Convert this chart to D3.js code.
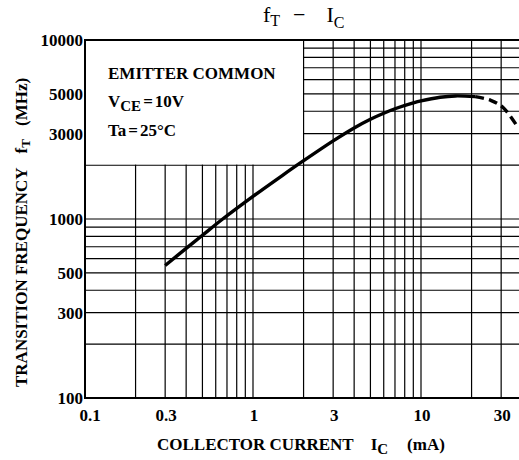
<!DOCTYPE html>
<html>
<meta charset="utf-8">
<head>
  <title>fT - IC</title>
</head>

<style>
body { margin: 0; background: #fff; }
svg { display: block; }
text {
  font-family: "Liberation Serif", "DejaVu Serif", serif;
  font-weight: bold;
  fill: #000;
}
text.title {
  font-weight: normal;
}
.grid line {
  stroke: #000;
  stroke-width: 1.2;
}
.tick {
  font-size: 17px;
}
</style>

<body>
  <svg width="519" height="460"></svg>

  <script src="https://cdnjs.cloudflare.com/ajax/libs/d3/7.8.5/d3.min.js"></script>

  <script>
var width = 519, height = 460
// axis ticks that carry labels
var xTicks = [0.1, 0.3, 1, 3, 10, 30]
var yTicks = [100, 300, 500, 1000, 3000, 5000, 10000]
// curve (Ic in mA, fT in MHz)
var icSolid = [0.3, 0.4, 0.5, 0.66, 1, 1.5, 2, 3, 4, 5, 6, 7, 9, 10, 13, 16, 21]
var ftSolid = [550, 685, 811, 1000, 1338, 1755, 2117, 2733, 3228, 3609, 3900, 4129, 4451, 4570, 4790, 4870, 4830]
var icDashed = [21, 26, 31, 38]
var ftDashed = [4830, 4600, 4170, 3220]

var plotLeft = 85, plotTop = 40, plotBottom = 398
var decadeX = 168

var x = d3.scaleLog().domain([0.1, 50]).range([plotLeft, plotLeft + decadeX * Math.log10(500)])
var y = d3.scaleLog().domain([100, 10000]).range([plotBottom, plotTop])

var svg = d3.select('svg')
var plot = svg.append('g')

//grid lines, all decades
var grid = plot.append('g').attr('class', 'grid')
grid.selectAll('.vx')
  .data(x.ticks())
  .enter()
  .append('line')
  .attr('x1', function(d) { return x(d) })
  .attr('x2', function(d) { return x(d) })
  .attr('y1', plotTop)
  .attr('y2', plotBottom)
grid.selectAll('.hy')
  .data(y.ticks())
  .enter()
  .append('line')
  .attr('x1', plotLeft)
  .attr('x2', x(50))
  .attr('y1', function(d) { return y(d) })
  .attr('y2', function(d) { return y(d) })

//white panel for the conditions (0.1..2 mA, 2000..10000 MHz)
plot.append('rect')
  .attr('x', plotLeft + 1)
  .attr('y', plotTop + 1)
  .attr('width', x(2) - plotLeft - 1.6)
  .attr('height', y(2000) - plotTop - 1.6)
  .attr('fill', '#fff')

//frame
plot.append('path')
  .attr('d', 'M' + x(50) + ',' + plotTop + 'H' + plotLeft + 'V' + plotBottom + 'H' + x(50))
  .attr('fill', 'none')
  .attr('stroke', '#000')
  .attr('stroke-width', 2)

//curve
var line = d3.line()
  .x(function(d) { return x(d[0]) })
  .y(function(d) { return y(d[1]) })
  .curve(d3.curveCatmullRom.alpha(0.5))

plot.append('path')
  .datum(d3.zip(icSolid, ftSolid))
  .attr('d', line)
  .attr('fill', 'none')
  .attr('stroke', '#000')
  .attr('stroke-width', 3.4)

plot.append('path')
  .datum(d3.zip(icDashed, ftDashed))
  .attr('d', line)
  .attr('fill', 'none')
  .attr('stroke', '#000')
  .attr('stroke-width', 3.4)
  .attr('stroke-dasharray', '9,5')

//tick labels
svg.selectAll('.xt')
  .data(xTicks)
  .enter()
  .append('text')
  .attr('class', 'tick')
  .attr('x', function(d) { return x(d) + (d == 0.1 ? 5 : 1) })
  .attr('y', 421)
  .attr('text-anchor', 'middle')
  .text(function(d) { return d })

svg.selectAll('.yt')
  .data(yTicks)
  .enter()
  .append('text')
  .attr('class', 'tick')
  .attr('x', 83)
  .attr('y', function(d) { return y(d) })
  .attr('dy', 6)
  .attr('text-anchor', 'end')
  .text(function(d) { return d })

//conditions text
var cond = svg.append('g').attr('font-size', 17)
cond.append('text').attr('x', 108).attr('y', 79).text('EMITTER COMMON')
var vce = cond.append('text').attr('x', 108).attr('y', 107)
vce.append('tspan').text('V')
vce.append('tspan').attr('dy', 4).attr('font-size', 15).text('CE')
vce.append('tspan').attr('dy', -4).attr('dx', 2).text('=')
vce.append('tspan').attr('dx', 2).text('10V')
var ta = cond.append('text').attr('x', 108).attr('y', 136)
ta.append('tspan').text('Ta')
ta.append('tspan').attr('dx', 2).text('=')
ta.append('tspan').attr('dx', 2).text('25\u00b0C')

//title
var title = svg.append('text')
  .attr('class', 'title')
  .attr('x', 263)
  .attr('y', 22)
  .attr('font-size', 22)
title.append('tspan').text('f')
title.append('tspan').attr('dy', 4).attr('font-size', 16).text('T')
title.append('tspan').attr('dy', -4).attr('dx', 13).text('\u2212')
title.append('tspan').attr('dx', 21).text('I')
title.append('tspan').attr('dy', 6).attr('font-size', 16).text('C')

//axis titles
var xl = svg.append('text')
  .attr('x', 157)
  .attr('y', 450)
  .attr('font-size', 17)
xl.append('tspan').text('COLLECTOR CURRENT')
xl.append('tspan').attr('dx', 17).text('I')
xl.append('tspan').attr('dy', 4).attr('font-size', 15).text('C')
xl.append('tspan').attr('dy', -4).attr('dx', 19).text('(mA)')

var yl = svg.append('text')
  .attr('transform', 'translate(27,387) rotate(-90)')
  .attr('font-size', 17)
yl.append('tspan').text('TRANSITION FREQUENCY')
yl.append('tspan').attr('dx', 14).text('f')
yl.append('tspan').attr('dy', 3).attr('font-size', 13).text('T')
yl.append('tspan').attr('dy', -3).attr('dx', 13).text('(MHz)')

  </script>
</body>
</html>
